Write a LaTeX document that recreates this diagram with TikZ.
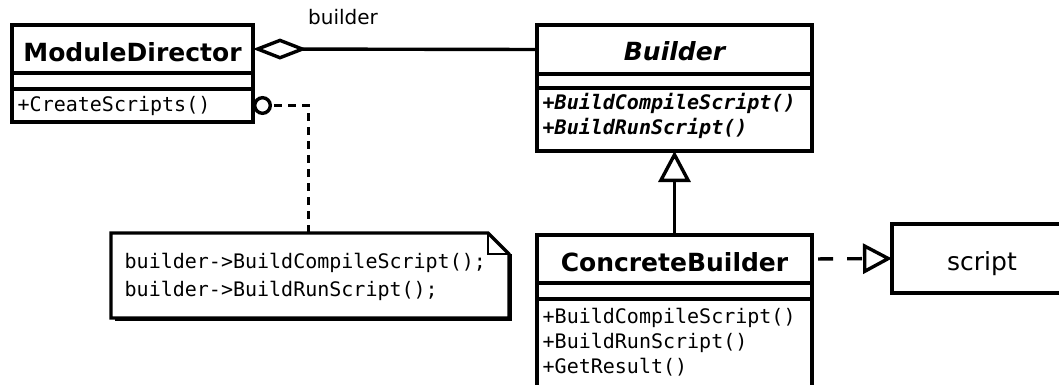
\documentclass[tikz,border=0pt]{standalone}
\usepackage{fontspec}
\setmainfont{DejaVu Sans}
\newfontfamily\codefont{DejaVu Sans Mono}
\usetikzlibrary{arrows.meta}

\tikzset{
  umlbox/.style={draw, rectangle, inner sep=0pt, outer sep=0pt, anchor=north west},
  classname/.style={font=\fontsize{25}{30}\selectfont\bfseries, anchor=base, inner sep=0pt},
  plaintext/.style={font=\fontsize{25}{30}\selectfont, anchor=base, inner sep=0pt},
  rolename/.style={font=\fontsize{20}{24}\selectfont, anchor=base, inner sep=0pt},
  op/.style={font=\codefont\fontsize{20}{25}\selectfont, anchor=base west, inner sep=0pt},
  absop/.style={op, font=\codefont\fontsize{20}{25}\selectfont\bfseries\itshape},
  aggregation/.style={{Diamond[open,length=54pt,width=21pt]}-},
  inherits/.style={-{Triangle[open,length=31pt,width=32pt]}},
  realizes/.style={dash pattern=on 15pt off 14pt, dash phase=23pt,
    -{Triangle[open,length=29pt,width=30pt]}},
  noteanchor/.style={dash pattern=on 8pt off 6pt, dash phase=10pt,
    {Circle[open,length=19pt]}-},
}

\begin{document}
\begin{tikzpicture}[x=1pt, y=-1pt, line width=3.4pt]
\useasboundingbox (0,0) rectangle (1059,385);
\fill[white] (0,0) rectangle (1059,385);
\clip (0,0) rectangle (1059,385);

% ModuleDirector
\node[umlbox, minimum width=241pt, minimum height=48pt] (mdname) at (12,25) {};
\node[umlbox, minimum width=241pt, minimum height=16pt] (mdattr) at (12,73) {};
\node[umlbox, minimum width=241pt, minimum height=33pt] (mdops)  at (12,89) {};
\node[classname] (mdtitle) at (132.5,62) {ModuleDirector};
\node[op] (mdop1) at (16,112) {+CreateScripts()};

% Builder (abstract)
\node[umlbox, minimum width=275pt, minimum height=49pt] (bname) at (537,25) {};
\node[umlbox, minimum width=275pt, minimum height=14pt] (battr) at (537,74) {};
\node[umlbox, minimum width=275pt, minimum height=63pt] (bops)  at (537,88) {};
\node[classname] (btitle) at (674.5,61) {\itshape Builder};
\node[absop] (bop1) at (541,110) {+BuildCompileScript()};
\node[absop] (bop2) at (541,135) {+BuildRunScript()};

% ConcreteBuilder
\node[umlbox, minimum width=275pt, minimum height=48pt]  (cbname) at (537,235) {};
\node[umlbox, minimum width=275pt, minimum height=16pt]  (cbattr) at (537,283) {};
\node[umlbox, minimum width=275pt, minimum height=110pt] (cbops)  at (537,299) {};
\node[classname] (cbtitle) at (674.5,271) {ConcreteBuilder};
\node[op] (cbop1) at (541,323) {+BuildCompileScript()};
\node[op] (cbop2) at (541,348) {+BuildRunScript()};
\node[op] (cbop3) at (541,373) {+GetResult()};

% script
\node[umlbox, minimum width=180pt, minimum height=69pt] (script) at (892,224) {};
\node[plaintext] (scripttext) at (982,270) {script};

% note with folded corner
\node[rectangle, inner sep=0pt, outer sep=0pt, anchor=north west,
      minimum width=398pt, minimum height=85pt] (note) at (111,233) {};
\draw (note.north west) -- ([xshift=-21pt]note.north east)
  -- ([yshift=-21pt]note.north east) -- (note.south east)
  -- (note.south west) -- cycle;
\draw ([xshift=1.5pt,yshift=-21pt]note.north east) -- ([xshift=1.5pt,yshift=-1.5pt]note.south east)
  -- ([xshift=4pt,yshift=-1.5pt]note.south west);
\draw[line width=1.5pt] ([xshift=-21pt]note.north east) |- ([yshift=-21pt]note.north east);
\node[op] (noteline1) at (123,268) {builder->BuildCompileScript();};
\node[op] (noteline2) at (123,296) {builder->BuildRunScript();};

% connectors
\draw[aggregation] (mdname.east) -- (bname.west);
\node[rolename] (role) at (343,25) {builder};
\draw[inherits] (cbname.north) -- (bops.south);
\draw[realizes] (cbname.east) -- (script.west);
\draw[noteanchor] (mdops.east) -| ([xshift=-1.5pt]note.north);
\end{tikzpicture}
\end{document}
